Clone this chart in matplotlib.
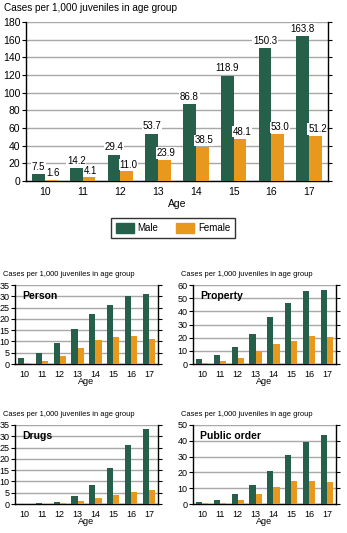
import matplotlib
matplotlib.use("Agg")
import matplotlib.pyplot as plt
import numpy as np
from matplotlib.patches import Patch

plt.rcParams['font.family'] = ['Liberation Sans', 'DejaVu Sans']

ages = ["10", "11", "12", "13", "14", "15", "16", "17"]
total_male = [7.5, 14.2, 29.4, 53.7, 86.8, 118.9, 150.3, 163.8]
total_female = [1.6, 4.1, 11.0, 23.9, 38.5, 48.1, 53.0, 51.2]

person_male = [2.8, 4.9, 9.5, 15.6, 22.2, 26.2, 30.1, 31.0]
person_female = [0.6, 1.5, 3.7, 7.2, 10.8, 12.1, 12.5, 11.2]
property_male = [4.0, 7.0, 13.1, 22.9, 35.8, 46.3, 55.4, 56.2]
property_female = [0.8, 2.5, 4.8, 9.6, 15.4, 17.6, 21.4, 20.7]
drugs_male = [0.1, 0.6, 1.0, 3.7, 8.5, 16.0, 26.2, 33.2]
drugs_female = [0.05, 0.1, 0.5, 1.5, 2.8, 4.1, 5.4, 6.3]
public_male = [1.5, 2.7, 6.5, 12.2, 21.0, 31.1, 39.3, 43.7]
public_female = [0.8, 0.8, 2.7, 6.5, 10.9, 14.7, 14.7, 14.1]

GREEN = "#26604a"
ORANGE = "#e8981c"
W, H = 347, 533

fig = plt.figure(figsize=(W / 100, H / 100), dpi=100)


def make_ax(l, r, t, b):
    return fig.add_axes([l / W, 1 - b / H, (r - l) / W, (b - t) / H])


def style(ax, ymax, ystep, fs):
    ax.set_xlim(-0.5, 7.5)
    ax.set_ylim(0, ymax)
    ax.set_yticks(np.arange(0, ymax + 0.01, ystep))
    ax.set_xticks(range(len(ages)))
    ax.set_xticklabels(ages)
    ax.yaxis.grid(True, color="#a8a8a8", linewidth=1.0)
    ax.set_axisbelow(True)
    ax.spines['top'].set_visible(False)
    for s in ['left', 'right', 'bottom']:
        ax.spines[s].set_linewidth(1.0)
        ax.spines[s].set_color("black")
    ax.tick_params(axis='y', which='both', left=True, right=True, direction='out',
                   length=3, width=0.8, labelsize=fs, pad=1)
    ax.tick_params(axis='x', length=0, labelsize=fs, pad=4)


def bars(ax, m, f):
    x = np.arange(len(ages))
    ax.bar(x - 0.17, m, width=0.34, color=GREEN, zorder=3)
    ax.bar(x + 0.17, f, width=0.34, color=ORANGE, zorder=3)


# Main chart
ax = make_ax(26, 328, 22, 181)
bars(ax, total_male, total_female)
style(ax, 180, 20, 7.5)
ax.set_xlabel("Age", fontsize=7.5, labelpad=2)
x = np.arange(len(ages))
for i in range(len(ages)):
    ax.text(x[i] - 0.17, total_male[i] + 3, f"{total_male[i]:.1f}", ha='center', va='bottom',
            fontsize=7, zorder=4,
            bbox=dict(facecolor='white', edgecolor='none', pad=0.5))
    ax.text(x[i] + 0.22, total_female[i] + 2, f"{total_female[i]:.1f}", ha='center', va='bottom',
            fontsize=7, zorder=4,
            bbox=dict(facecolor='white', edgecolor='none', pad=0.5))
fig.text(4 / W, 1 - 8 / H, "Cases per 1,000 juveniles in age group", fontsize=7.2,
         ha='left', va='center')

handles = [Patch(color=GREEN, label="Male"), Patch(color=ORANGE, label="Female")]
leg = fig.legend(handles=handles, loc='center', bbox_to_anchor=(173 / W, 1 - 228 / H),
                 ncol=2, fontsize=7, frameon=True, fancybox=False, edgecolor='black',
                 handlelength=1.85, handleheight=1.25, columnspacing=1.85, borderpad=0.45,
                 handletextpad=0.4)
leg.get_frame().set_linewidth(1.0)

# Small panels
panels = [
    ("Person", person_male, person_female, 35, 5, 15, 158, 285, 364, 275),
    ("Property", property_male, property_female, 60, 10, 193, 336, 285, 364, 275),
    ("Drugs", drugs_male, drugs_female, 35, 5, 15, 158, 425, 504, 414),
    ("Public order", public_male, public_female, 50, 10, 193, 336, 425, 504, 414),
]
for name, m, f, ymax, ystep, l, r, t, b, ty in panels:
    a = make_ax(l, r, t, b)
    bars(a, m, f)
    style(a, ymax, ystep, 6.5)
    a.set_xlabel("Age", fontsize=6.5, labelpad=-1)
    a.text(0.05, 0.93, name, transform=a.transAxes, fontsize=7.5, fontweight='bold',
           ha='left', va='top', zorder=5)
    fig.text((l - 12) / W, 1 - ty / H, "Cases per 1,000 juveniles in age group",
             fontsize=5.4, ha='left', va='center')

fig.savefig("out.png", dpi=100)
